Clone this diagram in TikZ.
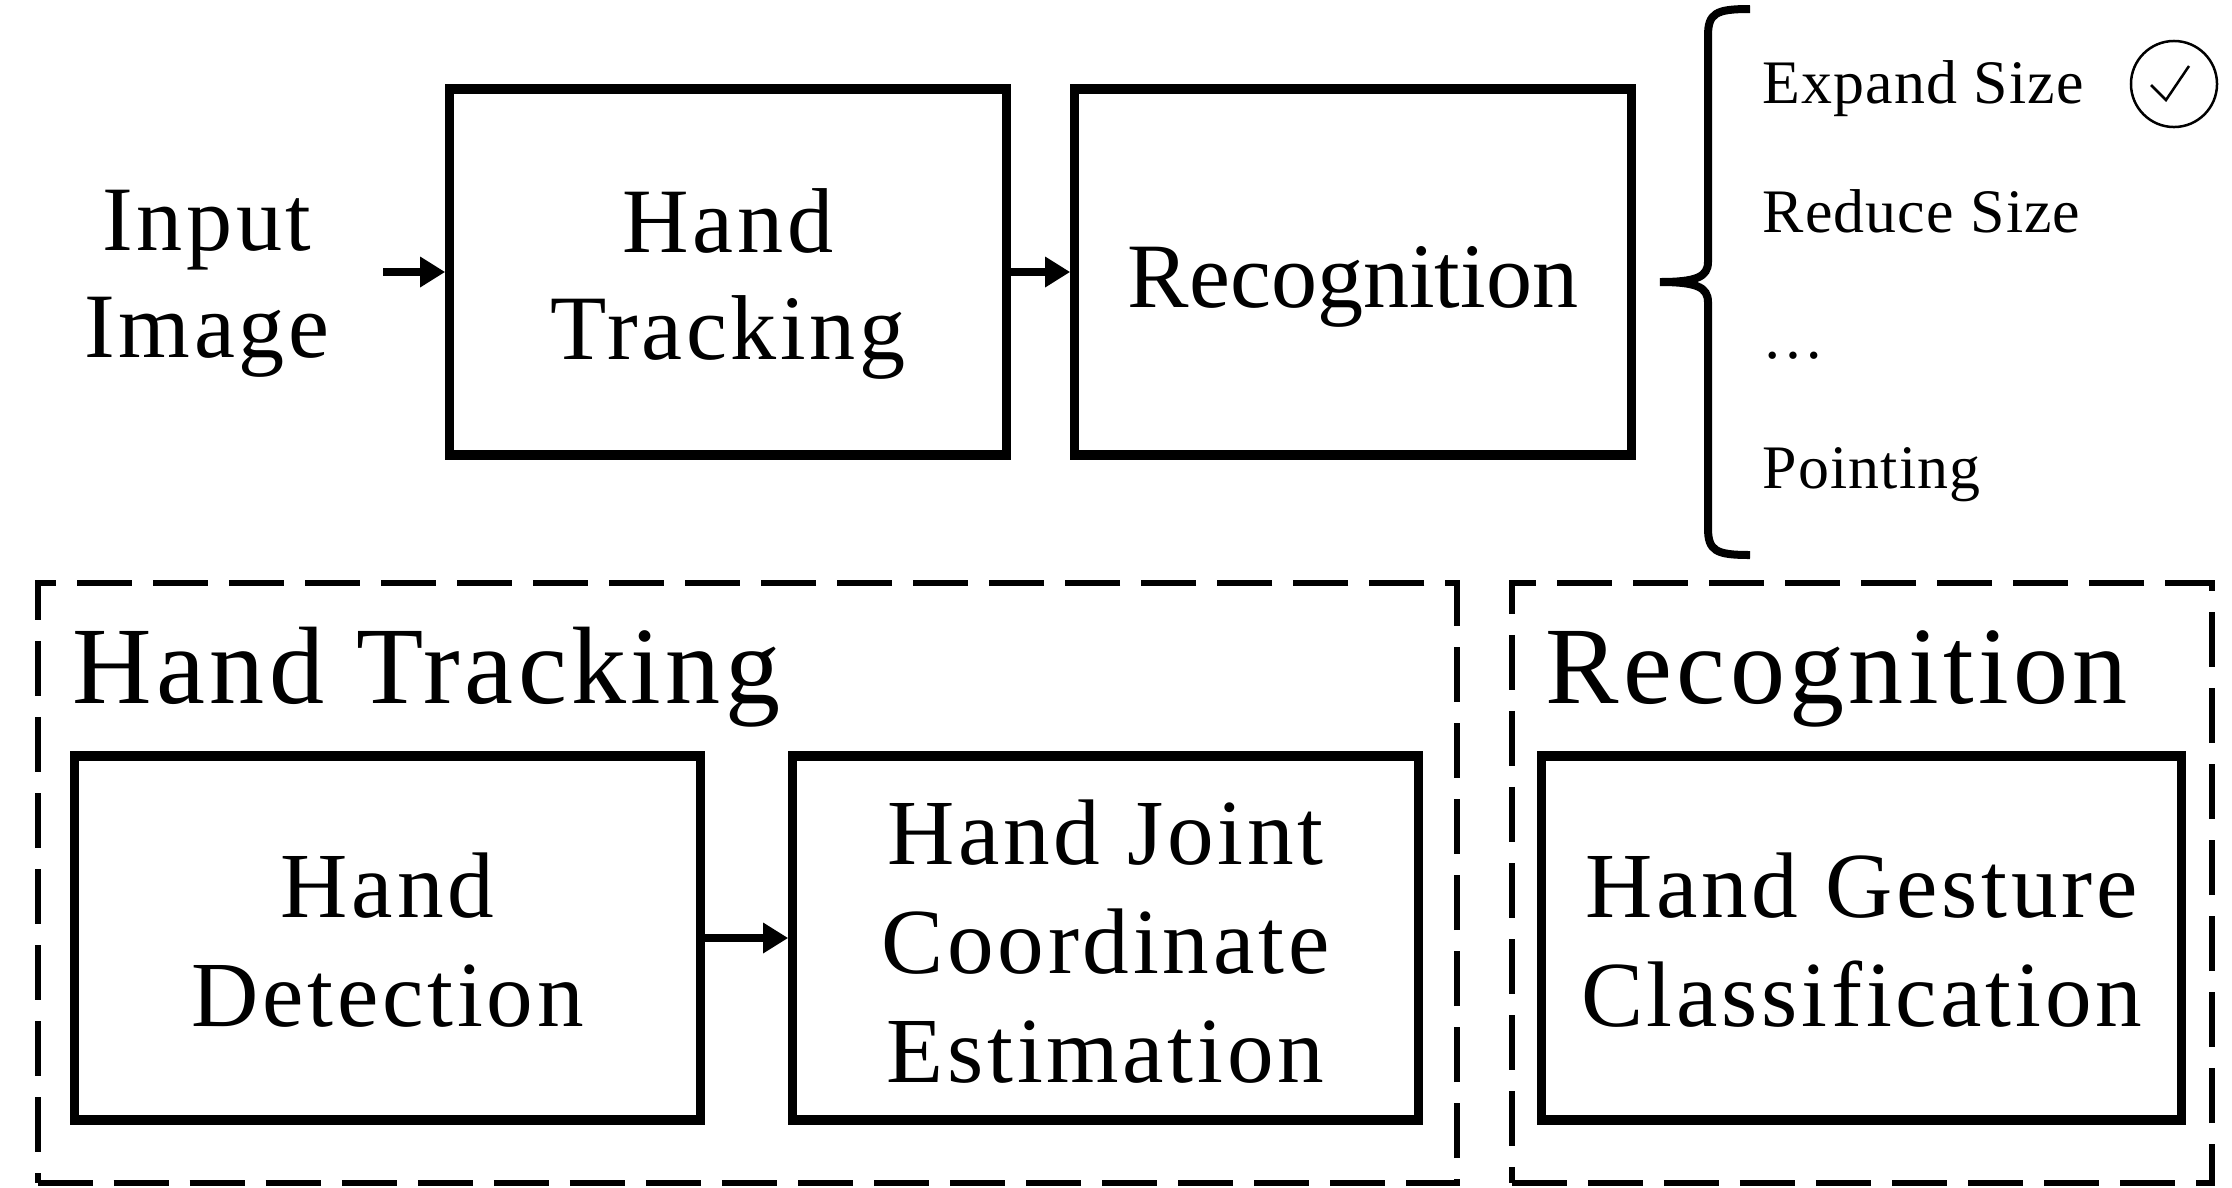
\documentclass[tikz,border=0pt]{standalone}
\usepackage{fontspec}
\setmainfont{Liberation Serif}
\newfontfamily\spacedfont[LetterSpace=4.0]{Liberation Serif}
\newfontfamily\listfont[LetterSpace=1.8]{Liberation Serif}
\usetikzlibrary{arrows.meta}
\newcommand{\tl}[1]{\begin{tabular}[t]{@{}c@{}}#1\end{tabular}}
\tikzset{
  solidbox/.style={draw=black, line width=0.093cm, inner sep=0pt, fill=none},
  dashbox/.style={draw=black, line width=0.06cm, dash pattern=on 0.55cm off 0.21cm, inner sep=0pt},
  arr/.style={line width=0.08cm, -{Triangle[length=0.25cm,width=0.29cm]}},
  bigtxt/.style={inner sep=0pt, anchor=base, font=\spacedfont\fontsize{26.2pt}{30.7pt}\selectfont},
  plaintxt/.style={inner sep=0pt, anchor=base, font=\rmfamily\fontsize{26.2pt}{30.7pt}\selectfont},
  boxtxt/.style={inner sep=0pt, anchor=base, font=\spacedfont\fontsize{26.5pt}{31pt}\selectfont},
  lbltxt/.style={inner sep=0pt, anchor=base west, font=\spacedfont\fontsize{31.3pt}{36pt}\selectfont},
  listtxt/.style={inner sep=0pt, anchor=base west, font=\listfont\fontsize{17.6pt}{21pt}\selectfont},
}
\begin{document}
\begin{tikzpicture}[x=0.01cm,y=-0.01cm]
\useasboundingbox[fill=white] (0,0) rectangle (2232,1187);

% top row
\node[bigtxt] (inp) at (207,250) {\tl{Input\\Image}};
\coordinate (inA) at (383,272);
\node[solidbox, minimum width=5.56cm, minimum height=3.66cm] (ht) at (728,272) {};
\node[bigtxt] (httxt) at (728,252) {\tl{Hand\\Tracking}};
\node[solidbox, minimum width=5.56cm, minimum height=3.66cm] (rec) at (1353,272) {};
\node[plaintxt] (rectxt) at (1353,307) {Recognition};
\draw[arr] (inA) -- (ht.west);
\draw[arr] (ht.east) -- (rec.west);

% brace
\draw[line width=0.08cm] (1750,9) .. controls (1716,9) and (1708,13) .. (1708,36)
  -- (1708,262) .. controls (1708,277) and (1696,282) .. (1660,282)
  .. controls (1696,282) and (1708,287) .. (1708,302)
  -- (1708,528) .. controls (1708,551) and (1716,555) .. (1750,555);

\node[listtxt] (l1) at (1762,103) {Expand Size};
\node[listtxt] (l2) at (1762,232) {Reduce Size};
\node[listtxt] (l3) at (1762,358) {…};
\node[listtxt] (l4) at (1762,488) {Pointing};
\node[draw=black, line width=0.025cm, circle, minimum size=0.86cm, inner sep=0pt] (chk) at (2174,84) {};
\draw[line width=0.025cm] ([shift={(-23,1)}]chk.center) -- ([shift={(-8,16)}]chk.center) -- ([shift={(15,-18)}]chk.center);

% bottom left group
\node[dashbox, minimum width=14.19cm, minimum height=6.00cm] (gtr) at (747.5,883) {};
\node[lbltxt] (gtrl) at (72,703) {Hand Tracking};
\node[solidbox, minimum width=6.25cm, minimum height=3.64cm] (hd) at (387.5,938) {};
\node[boxtxt] (hdtxt) at (387.5,917) {\tl{Hand\\Detection}};
\node[solidbox, minimum width=6.25cm, minimum height=3.64cm] (hj) at (1105.5,938) {};
\node[boxtxt] (hjtxt) at (1105.5,864) {\tl{Hand Joint\\Coordinate\\Estimation}};
\draw[arr] (hd.east) -- (hj.west);

% bottom right group
\node[dashbox, minimum width=7.00cm, minimum height=6.00cm] (grc) at (1862,883) {};
\node[lbltxt] (grcl) at (1545,703) {Recognition};
\node[solidbox, minimum width=6.39cm, minimum height=3.64cm] (hg) at (1861.5,938) {};
\node[boxtxt] (hgtxt) at (1861.5,917) {\tl{Hand Gesture\\Classification}};
\end{tikzpicture}
\end{document}
